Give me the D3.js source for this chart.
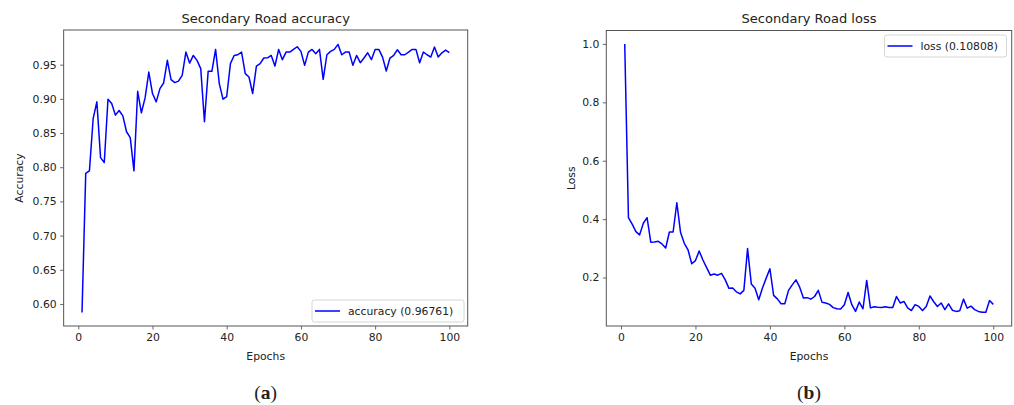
<!DOCTYPE html>
<html><head><meta charset="utf-8">
<script src="https://cdn.jsdelivr.net/npm/d3@7"></script>
<style>
html,body{margin:0;padding:0;background:#fff;}
svg text{font-family:"DejaVu Sans",sans-serif;fill:#222;}
</style></head>
<body><svg id="c" width="1014" height="405"></svg>
<script>
const epochs = d3.range(1, 101);
const accuracy = [0.5875,0.791,0.7947,0.871,0.8956,0.814,0.8068,0.8995,0.8932,0.8762,
0.883,0.8752,0.8519,0.8432,0.7947,0.9111,0.8796,0.9014,0.9392,0.9078,
0.8956,0.915,0.9232,0.9563,0.9281,0.9238,0.926,0.9344,0.9684,0.9523,
0.9635,0.9563,0.9442,0.8665,0.9402,0.9402,0.9723,0.9223,0.8995,0.9034,
0.9515,0.9635,0.9645,0.9684,0.9369,0.932,0.9078,0.948,0.9515,0.9597,
0.96,0.9635,0.948,0.9723,0.9573,0.9684,0.9684,0.9723,0.9762,0.9694,
0.949,0.9684,0.9723,0.966,0.9723,0.9286,0.9645,0.9694,0.9723,0.9796,
0.9645,0.9684,0.9684,0.949,0.9635,0.9529,0.9597,0.9674,0.9573,0.9723,
0.9723,0.9611,0.9407,0.9597,0.9635,0.9718,0.9645,0.9645,0.9684,0.9723,
0.9723,0.9529,0.9684,0.9645,0.9611,0.9757,0.9611,0.9674,0.9713,0.96761];
const loss = [1.0,0.405,0.383,0.357,0.346,0.386,0.405,0.321,0.322,0.324,
0.315,0.301,0.356,0.356,0.456,0.354,0.317,0.295,0.247,0.258,
0.291,0.260,0.234,0.208,0.212,0.208,0.214,0.192,0.163,0.164,
0.151,0.144,0.156,0.299,0.178,0.163,0.124,0.164,0.198,0.230,
0.139,0.127,0.110,0.110,0.156,0.175,0.192,0.167,0.130,0.131,
0.126,0.135,0.156,0.115,0.113,0.108,0.097,0.093,0.092,0.107,
0.149,0.107,0.084,0.116,0.093,0.190,0.096,0.100,0.098,0.097,
0.100,0.097,0.097,0.135,0.113,0.118,0.096,0.087,0.107,0.101,
0.087,0.101,0.137,0.117,0.101,0.113,0.090,0.110,0.088,0.084,
0.086,0.126,0.095,0.102,0.090,0.084,0.081,0.081,0.121,0.10808];
const xTicks = [0,20,40,60,80,100];
const accTicks = [0.60,0.65,0.70,0.75,0.80,0.85,0.90,0.95];
const lossTicks = [0.2,0.4,0.6,0.8,1.0];

const svg = d3.select("#c");
const FS = "10.8px";

function panel(o){
  const g = svg.append("g");
  const x = d3.scaleLinear().domain([-3.95,104.95]).range([o.left,o.right]);
  const y = d3.scaleLinear().domain(o.ydom).range([o.bottom,o.top]);
  const xa = g.append("g").attr("transform",`translate(0,${o.bottom})`)
    .call(d3.axisBottom(x).tickValues(xTicks).tickFormat(d3.format("d")).tickSize(3.5).tickPadding(3.5));
  const ya = g.append("g").attr("transform",`translate(${o.left},0)`)
    .call(d3.axisLeft(y).tickValues(o.yticks).tickFormat(d3.format(o.yfmt)).tickSize(3.5).tickPadding(3.5));
  [xa,ya].forEach(a=>{
    a.select(".domain").remove();
    a.selectAll("line").attr("stroke","#444").attr("stroke-width",0.8);
    a.selectAll("text").attr("font-size",FS).attr("font-family","DejaVu Sans").attr("fill","#222");
  });
  g.append("rect").attr("x",o.left).attr("y",o.top).attr("width",o.right-o.left).attr("height",o.bottom-o.top)
    .attr("fill","none").attr("stroke","#555").attr("stroke-width",1);
  const line = d3.line().x((d,i)=>x(epochs[i])).y(d=>y(d));
  g.append("path").datum(o.data).attr("d",line).attr("fill","none").attr("stroke","#0000ff").attr("stroke-width",1.5)
    .attr("stroke-linejoin","round");
  const cx = (o.left+o.right)/2;
  g.append("text").attr("x",cx).attr("y",23).attr("text-anchor","middle").attr("font-size","13px").text(o.title);
  g.append("text").attr("x",cx).attr("y",359.5).attr("text-anchor","middle").attr("font-size",FS).text("Epochs");
  g.append("text").attr("transform",`translate(${o.ylabX},${(o.top+o.bottom)/2}) rotate(-90)`)
    .attr("text-anchor","middle").attr("font-size",FS).text(o.ylab);
  // legend
  const L = o.legend;
  g.append("rect").attr("x",L.x).attr("y",L.y).attr("width",L.w).attr("height",22).attr("rx",2.5)
    .attr("fill","#fff").attr("fill-opacity",0.8).attr("stroke","#ccc").attr("stroke-width",0.8);
  g.append("line").attr("x1",L.x+3).attr("x2",L.x+28).attr("y1",L.y+11).attr("y2",L.y+11)
    .attr("stroke","#0000ff").attr("stroke-width",1.5);
  g.append("text").attr("x",L.x+36).attr("y",L.y+15).attr("font-size",FS).text(L.text);
  // caption
  const cap = g.append("text").attr("x",cx).attr("y",398.5).attr("text-anchor","middle")
    .style("font-family","'Liberation Serif','DejaVu Serif',serif").attr("font-size","19.5px").attr("fill","#000");
  cap.append("tspan").text("(");
  cap.append("tspan").attr("font-weight","bold").text(o.cap);
  cap.append("tspan").text(")");
}

panel({left:63.65,right:467.7,top:30,bottom:326,ydom:[0.5678,1.0007],yticks:accTicks,yfmt:".2f",
  data:accuracy,title:"Secondary Road accuracy",ylab:"Accuracy",ylabX:23,
  legend:{x:312,y:300,w:152,text:"accuracy (0.96761)"},cap:"a"});
panel({left:606.3,right:1011.7,top:30.5,bottom:326,ydom:[0.034,1.046],yticks:lossTicks,yfmt:".1f",
  data:loss,title:"Secondary Road loss",ylab:"Loss",ylabX:575,
  legend:{x:884.5,y:35,w:122,text:"loss (0.10808)"},cap:"b"});
</script></body></html>
